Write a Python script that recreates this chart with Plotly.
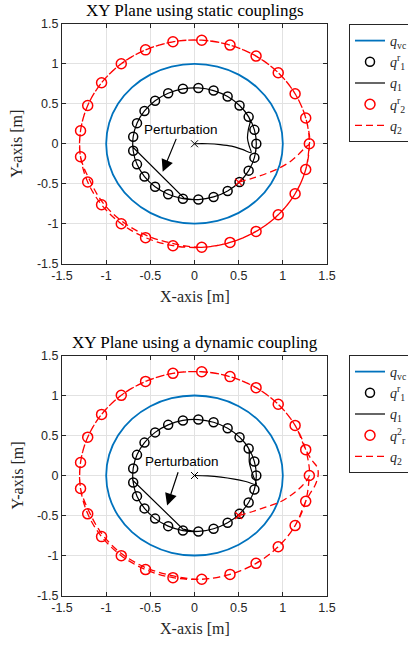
import plotly.graph_objects as go

# ---------------- data ----------------
# virtual-centre reference circle q_vc (radius 1), one point every 15 deg
qvc_x = [1.0, 0.966, 0.866, 0.707, 0.5, 0.259, 0.0, -0.259, -0.5, -0.707, -0.866, -0.966,
         -1.0, -0.966, -0.866, -0.707, -0.5, -0.259, 0.0, 0.259, 0.5, 0.707, 0.866, 0.966, 1.0]
qvc_y = [0.0, 0.259, 0.5, 0.707, 0.866, 0.966, 1.0, 0.966, 0.866, 0.707, 0.5, 0.259,
         0.0, -0.259, -0.5, -0.707, -0.866, -0.966, -1.0, -0.966, -0.866, -0.707, -0.5, -0.259, 0.0]

# reference positions of agent 1 (markers, radius ~0.7)
q1r_x = [0.700, 0.678, 0.613, 0.510, 0.375, 0.216, 0.044, -0.131, -0.298, -0.446, -0.566, -0.651, -0.694,
         -0.694, -0.651, -0.566, -0.446, -0.298, -0.131, 0.044, 0.216, 0.375, 0.510, 0.613, 0.678]
q1r_y = [0.000, 0.174, 0.337, 0.479, 0.591, 0.666, 0.699, 0.688, 0.633, 0.539, 0.411, 0.258, 0.088,
         -0.088, -0.258, -0.411, -0.539, -0.633, -0.688, -0.699, -0.666, -0.591, -0.479, -0.337, -0.174]

# reference positions of agent 2 (markers, radius ~1.3)
q2r_x = [1.300, 1.259, 1.139, 0.948, 0.697, 0.402, 0.082, -0.244, -0.554, -0.829, -1.052, -1.209, -1.290,
         -1.290, -1.209, -1.052, -0.829, -0.554, -0.244, 0.082, 0.402, 0.697, 0.948, 1.139, 1.259]
q2r_y = [0.000, 0.323, 0.626, 0.890, 1.098, 1.236, 1.297, 1.277, 1.176, 1.002, 0.764, 0.479, 0.163,
         -0.163, -0.479, -0.764, -1.002, -1.176, -1.277, -1.297, -1.236, -1.098, -0.890, -0.626, -0.323]

# --- static couplings (top) ---
s_q1_start_x = [0.0, 0.15, 0.29, 0.42, 0.54, 0.64, 0.62, 0.60, 0.61, 0.63]
s_q1_start_y = [0.0, 0.0, -0.01, -0.03, -0.07, -0.11, -0.03, 0.07, 0.18, 0.28]
s_pert_x = [-0.70, -0.12]
s_pert_y = [-0.04, -0.68]
s_q2_start_x = [0.50, 0.66, 0.82, 0.97, 1.10, 1.19, 1.26]
s_q2_start_y = [-0.48, -0.43, -0.37, -0.30, -0.21, -0.12, -0.04]
s_q2_dev_x = [-1.18, -1.03, -0.81, -0.54, -0.24]
s_q2_dev_y = [-0.47, -0.75, -0.98, -1.15, -1.25]

# --- dynamic coupling (bottom) ---
d_q1_start_x = [0.0, 0.15, 0.30, 0.45, 0.58, 0.70, 0.67, 0.64, 0.62, 0.62]
d_q1_start_y = [0.0, -0.005, -0.02, -0.045, -0.075, -0.11, -0.02, 0.08, 0.17, 0.26]
d_pert_x = [-0.70, -0.13]
d_pert_y = [-0.06, -0.67]
d_q2_start_x = [0.50, 0.66, 0.82, 0.97, 1.10, 1.20, 1.27]
d_q2_start_y = [-0.50, -0.45, -0.39, -0.33, -0.24, -0.15, -0.06]
d_q2_dev_x = [-1.185, -1.035, -0.815, -0.545, -0.24]
d_q2_dev_y = [-0.47, -0.75, -0.985, -1.155, -1.255]
d_q2_bulge_x = [1.30, 1.37, 1.40, 1.39, 1.33]
d_q2_bulge_y = [-0.24, -0.11, 0.01, 0.10, 0.19]

ticks = [-1.5, -1.0, -0.5, 0.0, 0.5, 1.0, 1.5]
tick_text = ['-1.5', '-1', '-0.5', '0', '0.5', '1', '1.5']

titles = ['XY Plane using static couplings', 'XY Plane using a dynamic coupling']
names_top = ['<i>q</i><sub>vc</sub>', '<i>q</i><sup>r</sup><sub>1</sub>', '<i>q</i><sub>1</sub>',
             '<i>q</i><sup>r</sup><sub>2</sub>', '<i>q</i><sub>2</sub>']
names_bot = ['<i>q</i><sub>vc</sub>', '<i>q</i><sup>r</sup><sub>1</sub>', '<i>q</i><sub>1</sub>',
             '<i>q</i><sup>2</sup><sub>r</sub>', '<i>q</i><sub>2</sub>']

# ---------------- build trajectories from the pieces ----------------
def q1_path(sx, sy, px, py):
    x = sx + q1r_x[2:13] + [px[0], px[0], px[1], px[1]] + q1r_x[19:] + q1r_x + [q1r_x[0]]
    y = sy + q1r_y[2:13] + [py[0], py[0], py[1], py[1]] + q1r_y[19:] + q1r_y + [q1r_y[0]]
    return x, y

s_q1_x, s_q1_y = q1_path(s_q1_start_x, s_q1_start_y, s_pert_x, s_pert_y)
d_q1_x, d_q1_y = q1_path(d_q1_start_x, d_q1_start_y, d_pert_x, d_pert_y)

s_q2_x = s_q2_start_x + q2r_x[0:14] + s_q2_dev_x + q2r_x[19:] + q2r_x + [q2r_x[0]]
s_q2_y = s_q2_start_y + q2r_y[0:14] + s_q2_dev_y + q2r_y[19:] + q2r_y + [q2r_y[0]]
d_q2_x = d_q2_start_x + q2r_x[0:14] + d_q2_dev_x + q2r_x[19:] + d_q2_bulge_x + q2r_x[1:] + [q2r_x[0]]
d_q2_y = d_q2_start_y + q2r_y[0:14] + d_q2_dev_y + q2r_y[19:] + d_q2_bulge_y + q2r_y[1:] + [q2r_y[0]]

BLUE = '#0072BD'
RED = '#FF0000'
DARK = '#262626'
SERIF = 'Liberation Serif'
SANS = 'Liberation Sans'

fig = go.Figure()

panels = [
    dict(xa='x', ya='y', leg='legend', names=names_top, q1=(s_q1_x, s_q1_y), q2=(s_q2_x, s_q2_y)),
    dict(xa='x2', ya='y2', leg='legend2', names=names_bot, q1=(d_q1_x, d_q1_y), q2=(d_q2_x, d_q2_y)),
]

for p in panels:
    common = dict(xaxis=p['xa'], yaxis=p['ya'], legend=p['leg'])
    fig.add_trace(go.Scatter(x=qvc_x, y=qvc_y, mode='lines', name=p['names'][0],
                             line=dict(color=BLUE, width=1.8, shape='spline'), **common))
    fig.add_trace(go.Scatter(x=q1r_x, y=q1r_y, mode='markers', name=p['names'][1],
                             marker=dict(symbol='circle-open', size=9, color='black', line=dict(width=1.5)),
                             **common))
    fig.add_trace(go.Scatter(x=p['q1'][0], y=p['q1'][1], mode='lines', name=p['names'][2],
                             line=dict(color='black', width=1.2, shape='spline'), **common))
    fig.add_trace(go.Scatter(x=q2r_x, y=q2r_y, mode='markers', name=p['names'][3],
                             marker=dict(symbol='circle-open', size=10, color=RED, line=dict(width=1.5)),
                             **common))
    fig.add_trace(go.Scatter(x=p['q2'][0], y=p['q2'][1], mode='lines', name=p['names'][4],
                             line=dict(color=RED, width=1.3, shape='spline', dash='7px,4px'), **common))
    # start points
    fig.add_trace(go.Scatter(x=[p['q1'][0][0]], y=[p['q1'][1][0]], mode='markers', showlegend=False,
                             marker=dict(symbol='x-thin-open', size=7, color='black', line=dict(width=1, color='black')),
                             **common))
    fig.add_trace(go.Scatter(x=[p['q2'][0][0]], y=[p['q2'][1][0]], mode='markers', showlegend=False,
                             marker=dict(symbol='x-thin-open', size=7, color=RED, line=dict(width=1.2, color=RED)),
                             **common))

W, H = 408, 646
x_dom = [62 / W, 327 / W]
y_doms = [[1 - 263.5 / H, 1 - 24 / H], [1 - 595.5 / H, 1 - 355.5 / H]]

axis_common = dict(range=[-1.5, 1.5], tickvals=ticks, ticktext=tick_text, showgrid=True,
                   gridcolor='#e2e2e2', gridwidth=1, zeroline=False, showline=True, linecolor=DARK,
                   linewidth=1, mirror='ticks', ticks='inside', ticklen=4, tickcolor=DARK,
                   tickfont=dict(family=SANS, size=12.5, color=DARK), fixedrange=True)

fig.update_layout(
    width=W, height=H, margin=dict(l=0, r=0, t=0, b=0, autoexpand=False),
    paper_bgcolor='white', plot_bgcolor='white',
    xaxis=dict(domain=x_dom, anchor='y', **axis_common),
    yaxis=dict(domain=y_doms[0], anchor='x', **axis_common),
    xaxis2=dict(domain=x_dom, anchor='y2', **axis_common),
    yaxis2=dict(domain=y_doms[1], anchor='x2', **axis_common),
    legend=dict(x=349 / W, y=1 - 24 / H, xanchor='left', yanchor='top', bgcolor='white',
                bordercolor=DARK, borderwidth=1, font=dict(family=SERIF, size=14, color=DARK),
                tracegroupgap=0, itemwidth=30),
    legend2=dict(x=349 / W, y=1 - 355 / H, xanchor='left', yanchor='top', bgcolor='white',
                 bordercolor=DARK, borderwidth=1, font=dict(family=SERIF, size=14, color=DARK),
                 tracegroupgap=0, itemwidth=30),
    showlegend=True,
)

annotations = []
for i, (t, yd) in enumerate(zip(titles, y_doms)):
    xc = (x_dom[0] + x_dom[1]) / 2
    annotations.append(dict(text=t, x=xc, y=yd[1], xref='paper', yref='paper', xanchor='center',
                            yanchor='bottom', yshift=2, showarrow=False,
                            font=dict(family=SERIF, size=17, color='black')))
    annotations.append(dict(text='X-axis [m]', x=xc, y=yd[0], xref='paper', yref='paper', xanchor='center',
                            yanchor='top', yshift=-22, showarrow=False,
                            font=dict(family=SERIF, size=16, color=DARK)))
    annotations.append(dict(text='Y-axis [m]', x=17 / W, y=(yd[0] + yd[1]) / 2, xref='paper', yref='paper',
                            xanchor='center', yanchor='middle', textangle=-90, showarrow=False,
                            font=dict(family=SERIF, size=16, color=DARK)))

pert_text = [(-0.15, 0.18), (-0.14, 0.175)]
pert_arrow = [((-0.20, 0.08), (-0.36, -0.35)), ((-0.18, 0.06), (-0.31, -0.375))]
for i, (xa, ya) in enumerate([('x', 'y'), ('x2', 'y2')]):
    annotations.append(dict(text='Perturbation', x=pert_text[i][0], y=pert_text[i][1], xref=xa, yref=ya,
                            showarrow=False, font=dict(family=SANS, size=13.5, color='black'),
                            bgcolor='rgba(255,255,255,0)'))
    (tx, ty), (hx, hy) = pert_arrow[i]
    annotations.append(dict(text='', x=hx, y=hy, ax=tx, ay=ty, xref=xa, yref=ya, axref=xa, ayref=ya,
                            showarrow=True, arrowhead=2, arrowsize=2.0, arrowwidth=1.2, arrowcolor='black'))

fig.update_layout(annotations=annotations)

fig.write_html('out.html')
